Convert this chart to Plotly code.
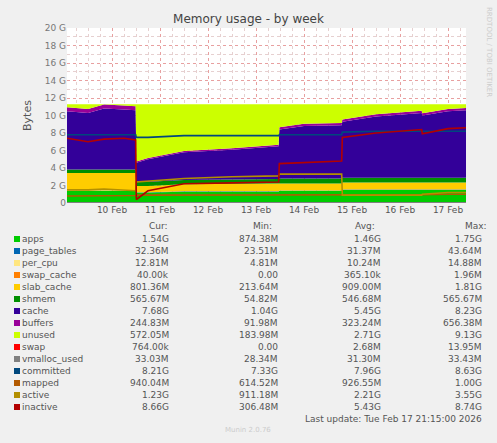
import plotly.graph_objects as go

times = ["2026-02-09 01:30","2026-02-09 12:00","2026-02-09 20:00","2026-02-10 06:00","2026-02-10 11:50",
         "2026-02-10 12:10","2026-02-10 18:00","2026-02-11 12:00","2026-02-12 12:00","2026-02-13 11:20",
         "2026-02-13 11:40","2026-02-14 00:00","2026-02-14 18:50","2026-02-14 19:10","2026-02-15 12:00",
         "2026-02-16 10:50","2026-02-16 11:10","2026-02-17 00:00","2026-02-17 09:00"]

apps        = [1.4,1.4,1.4,1.4,1.4, 1.2,1.2,1.3,1.3,1.3, 1.4,1.4,1.4, 1.5,1.5,1.5,1.5,1.5,1.5]
page_tables = [0.03]*19
per_cpu     = [0.01]*19
swap_cache  = [0.0]*19
slab_cache  = [2.0,2.0,2.0,2.0,2.0, 0.7,0.7,0.8,0.85,0.9, 0.8,0.8,0.8, 0.8,0.8,0.8,0.8,0.8,0.8]
shmem       = [0.4,0.4,0.4,0.4,0.4, 0.5,0.5,0.5,0.5,0.5, 0.55,0.55,0.55, 0.55,0.55,0.55,0.55,0.55,0.55]
cache       = [6.66,6.46,6.96,6.86,6.76, 2.16,2.56,3.16,3.41,3.76, 5.61,6.01,6.11, 6.41,7.01,7.41,7.11,7.61,7.71]
buffers     = [0.45]*5 + [0.15]*5 + [0.25]*9
unused      = [0.35,0.55,0.05,0.15,0.25, 6.55,6.15,5.35,5.05,4.65, 2.65,2.25,2.15, 1.75,1.15,0.75,1.05,0.55,0.45]
swap        = [0.0]*19
vmalloc_used= [0.03]*19
committed   = [7.8,7.8,7.8,7.8,7.8, 7.5,7.5,7.7,7.7,7.7, 7.8,7.8,7.8, 8.1,8.2,8.2,8.2,8.2,8.2]
mapped      = [0.8,0.8,0.85,0.85,0.85, 0.9,0.9,0.9,0.9,0.9, 0.9,0.9,0.9, 0.9,0.9,0.95,0.95,1.0,1.0]
active      = [1.5,1.5,1.6,1.5,1.4, 2.4,2.5,2.8,3.0,3.1, 3.3,3.3,3.3, 0.9,0.9,0.9,1.0,1.2,1.2]
inactive    = [7.4,7.0,7.3,7.4,7.2, 0.4,1.4,2.2,2.3,2.4, 4.5,4.6,4.8, 7.5,8.0,8.4,7.9,8.5,8.6]

names  = ["apps","page_tables","per_cpu","swap_cache","slab_cache","shmem","cache","buffers","unused",
          "swap","vmalloc_used","committed","mapped","active","inactive"]
colors = ["#00cc00","#0066b3","#ffe680","#ff8000","#ffcc00","#008f00","#330099","#990099","#ccff00",
          "#ff0000","#808080","#00487d","#b35a00","#b38f00","#b30000"]
cur  = ["1.54G","32.36M","12.81M","40.00k","801.36M","565.67M","7.68G","244.83M","572.05M","764.00k","33.03M","8.21G","940.04M","1.23G","8.66G"]
mins = ["874.38M","23.51M","4.81M","0.00","213.64M","54.82M","1.04G","91.98M","183.98M","0.00","28.34M","7.33G","614.52M","911.18M","306.48M"]
avgs = ["1.46G","31.37M","10.24M","365.10k","909.00M","546.68M","5.45G","323.24M","2.71G","2.68M","31.30M","7.96G","926.55M","2.21G","5.43G"]
maxs = ["1.75G","43.64M","14.88M","1.96M","1.81G","565.67M","8.23G","656.38M","9.13G","13.95M","33.43M","8.63G","1.00G","3.55G","8.74G"]

stacked = [apps,page_tables,per_cpu,swap_cache,slab_cache,shmem,cache,buffers,unused,swap]
lines = [vmalloc_used,committed,mapped,active,inactive]

fig = go.Figure()
for i, s in enumerate(stacked):
    fig.add_trace(go.Scatter(x=times, y=s, stackgroup="a", mode="none", fillcolor=colors[i],
                             name=names[i], line=dict(width=0)))
for j, s in enumerate(lines):
    fig.add_trace(go.Scatter(x=times, y=s, mode="lines", line=dict(color=colors[10+j], width=1.6), name=names[10+j]))

W, H = 497, 443
L, R, T, B = 67, 466, 28, 203
fig.update_layout(
    width=W, height=H, showlegend=False,
    margin=dict(l=L, r=W-R, t=T, b=H-B, autoexpand=False),
    paper_bgcolor="#f0f0f0", plot_bgcolor="white",
    font=dict(family="DejaVu Sans", size=9, color="#555"),
    title=dict(text="Memory usage - by week", x=0.5, xanchor="center", y=1-19/H, yanchor="middle",
               font=dict(size=12, color="#444")),
    xaxis=dict(range=["2026-02-09 01:30","2026-02-17 09:00"], tickformat="%d %b", dtick=86400000,
               tick0="2026-02-10", showgrid=True, gridcolor="#e8a0a0", griddash="dot", ticks="",
               showline=False, zeroline=False, automargin=False, tickfont=dict(size=9, color="#555"),
               minor=dict(dtick=6*3600000, showgrid=True, gridcolor="#e6d0d0", griddash="dot")),
    yaxis=dict(range=[0, 20], tickvals=list(range(0, 21, 2)),
               ticktext=["0"] + [f"{v} G" for v in range(2, 21, 2)], automargin=False,
               showgrid=True, gridcolor="#e8a0a0", griddash="dot", zeroline=False,
               title=dict(text="Bytes", font=dict(size=11, color="#555"), standoff=10),
               tickfont=dict(size=9, color="#777"),
               minor=dict(dtick=1, showgrid=True, gridcolor="#e6d0d0", griddash="dot")),
)

def P(x, y):
    return (x-L)/(R-L), (B-y)/(B-T)
ann = []
def A(x, y, t, anchor="left", size=9, color="#555", angle=0):
    px, py = P(x, y)
    ann.append(dict(x=px, y=py, xref="paper", yref="paper", text=t, showarrow=False, textangle=angle,
                    xanchor=anchor, yanchor="middle", font=dict(size=size, color=color)))
A(489, 52, "RRDTOOL / TOBI OETIKER", "center", 7, "#ccc", 90)
A(158, 226, "Cur:", "center"); A(262, 226, "Min:", "center"); A(365, 226, "Avg:", "center"); A(476, 226, "Max:", "center")
shapes = []
for k in range(15):
    y = 239 + 12*k
    px0, py0 = P(14, y-3); px1, py1 = P(20, y+3)
    shapes.append(dict(type="rect", xref="paper", yref="paper", x0=px0, x1=px1, y0=py1, y1=py0,
                       fillcolor=colors[k], line=dict(width=0)))
    A(20, y, names[k])
    A(171, y, cur[k], "right"); A(280, y, mins[k], "right"); A(383, y, avgs[k], "right"); A(484, y, maxs[k], "right")
A(484, 419, "Last update: Tue Feb 17 21:15:00 2026", "right")
A(248, 430, "Munin 2.0.76", "center", 7, "#ccc")
fig.update_layout(annotations=ann, shapes=shapes)
fig.write_html("out.html", config={"displayModeBar": False})
with open("out.html") as f:
    html = f.read()
html = html.replace("<body>", '<body style="margin:0;background:#f0f0f0">', 1)
with open("out.html", "w") as f:
    f.write(html)
